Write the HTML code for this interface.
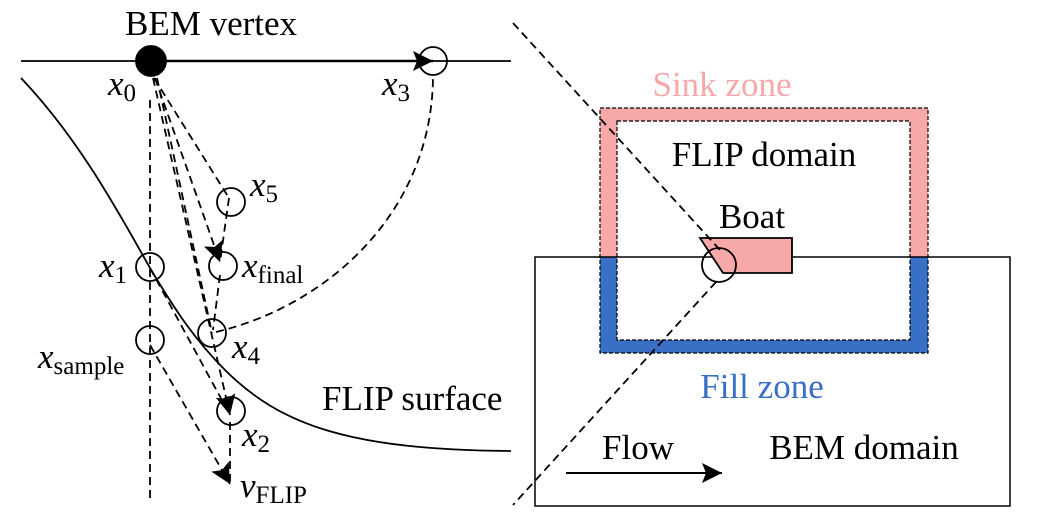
<!DOCTYPE html>
<html><head><meta charset="utf-8"><style>
html,body{margin:0;padding:0;background:#fff;}
svg{display:block;font-family:"Liberation Serif",serif;}
</style></head><body>
<svg width="1043" height="525" viewBox="0 0 1043 525">
<defs>
<marker id="ahb" viewBox="0 0 10 10" refX="10" refY="5" markerWidth="24" markerHeight="20" markerUnits="userSpaceOnUse" orient="auto"><path d="M0,0 L10,5 L0,10 L2,5 z" fill="#000"/></marker>
</defs>
<g fill="none" stroke="#000" stroke-width="1.8">
<line x1="21" y1="61" x2="511" y2="61"/>
<line x1="151" y1="61" x2="433" y2="61" stroke-width="2.5" marker-end="url(#ahb)"/>
<path d="M21,78 C80,140 120,215 150,268 C175,310 195,340 225,370 C280,425 350,450 511,451"/>
<g stroke-dasharray="8,5">
<line x1="150" y1="100" x2="150" y2="502"/>
<line x1="154" y1="78" x2="229" y2="198"/>
<line x1="155" y1="78" x2="220" y2="262" marker-end="url(#ahb)"/>
<line x1="157" y1="78" x2="212" y2="333"/>
<line x1="153" y1="78" x2="230" y2="415" marker-end="url(#ahb)"/>
<line x1="229" y1="198" x2="220" y2="262"/>
<line x1="220" y1="275" x2="213" y2="330"/>
<line x1="150" y1="268" x2="230" y2="415"/>
<line x1="150" y1="345" x2="230" y2="484" marker-end="url(#ahb)"/>
<line x1="230" y1="422" x2="230" y2="484"/>
<path d="M216,332 C330,305 433,210 433,75"/>
</g>
<circle cx="151" cy="61" r="15" fill="#000"/>
<circle cx="433" cy="61" r="14"/>
<circle cx="150" cy="267" r="14"/>
<circle cx="150" cy="340" r="14"/>
<circle cx="231" cy="202" r="14"/>
<circle cx="223" cy="266" r="14"/>
<circle cx="212" cy="333" r="14"/>
<circle cx="231" cy="411" r="14"/>
</g>
<g font-size="35" fill="#000">
<text x="211" y="35" text-anchor="middle">BEM vertex</text>
<text x="108" y="95" font-style="italic">x<tspan font-size="25" font-style="normal" dy="6">0</tspan></text>
<text x="382" y="95" font-style="italic">x<tspan font-size="25" font-style="normal" dy="6">3</tspan></text>
<text x="250" y="196" font-style="italic">x<tspan font-size="25" font-style="normal" dy="6">5</tspan></text>
<text x="99" y="277" font-style="italic">x<tspan font-size="25" font-style="normal" dy="6">1</tspan></text>
<text x="242" y="277" font-style="italic">x<tspan font-size="25" font-style="normal" dy="6">final</tspan></text>
<text x="232" y="358" font-style="italic">x<tspan font-size="25" font-style="normal" dy="6">4</tspan></text>
<text x="38" y="368" font-style="italic">x<tspan font-size="25" font-style="normal" dy="6">sample</tspan></text>
<text x="242" y="446" font-style="italic">x<tspan font-size="25" font-style="normal" dy="6">2</tspan></text>
<text x="240" y="497" font-style="italic">v<tspan font-size="25" font-style="normal" dy="6">FLIP</tspan></text>
<text x="322" y="410">FLIP surface</text>
</g>
<g>
<rect x="600" y="108" width="328" height="149" fill="#f7a8a8"/>
<rect x="600" y="257" width="328" height="96" fill="#3a6fc6"/>
<rect x="617" y="121" width="293" height="219" fill="#fff"/>
<rect x="600" y="108" width="328" height="245" fill="none" stroke="#000" stroke-width="1.2" stroke-dasharray="4,2"/>
<rect x="617" y="121" width="293" height="219" fill="none" stroke="#000" stroke-width="1.2" stroke-dasharray="4,2"/>
<rect x="535" y="257" width="475" height="249" fill="none" stroke="#000" stroke-width="1.5"/>
<polygon points="700,238 792,238 792,273 723,273" fill="#f7a8a8" stroke="#000" stroke-width="1.8"/>
<circle cx="719" cy="265" r="17" fill="none" stroke="#000" stroke-width="1.8"/>
<polyline points="513,23 720,250" fill="none" stroke="#000" stroke-width="1.8" stroke-dasharray="8,5"/>
<polyline points="716,282 513,505" fill="none" stroke="#000" stroke-width="1.8" stroke-dasharray="8,5"/>
<line x1="566" y1="473" x2="722" y2="473" stroke="#000" stroke-width="2" marker-end="url(#ahb)"/>
<g font-size="35">
<text x="722" y="96" text-anchor="middle" fill="#f7a8a8">Sink zone</text>
<text x="764" y="166" text-anchor="middle" fill="#000">FLIP domain</text>
<text x="752" y="228" text-anchor="middle" fill="#000">Boat</text>
<text x="762" y="398" text-anchor="middle" fill="#3a6fc6">Fill zone</text>
<text x="638" y="459" text-anchor="middle" fill="#000">Flow</text>
<text x="864" y="459" text-anchor="middle" fill="#000">BEM domain</text>
</g>
</g>
</svg>
</body></html>
